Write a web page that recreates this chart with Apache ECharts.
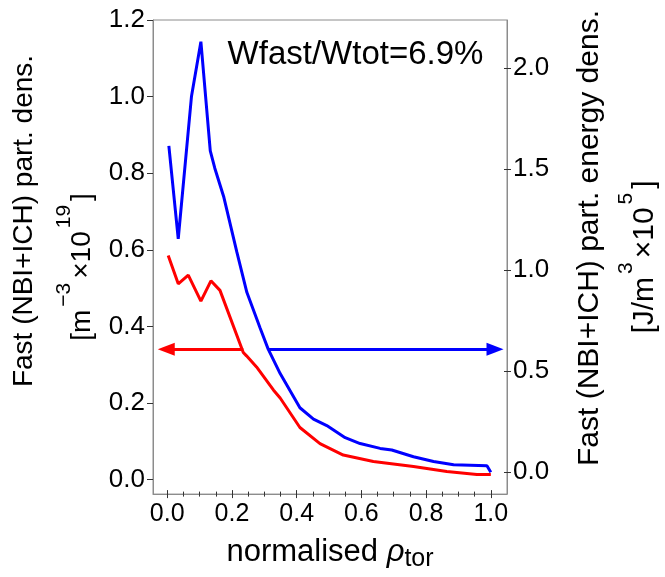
<!DOCTYPE html>
<html><head><meta charset="utf-8">
<script src="https://cdn.jsdelivr.net/npm/echarts@6/dist/echarts.min.js"></script>
<style>html,body{margin:0;padding:0;background:#fff}#c{width:665px;height:577px}</style>
</head><body><div id="c"></div><script>
// Fast particle density (left axis, 1e19 m^-3)
const rhoDens = [0.003, 0.034, 0.065, 0.104, 0.135, 0.163, 0.235, 0.245, 0.276, 0.328, 0.349, 0.41, 0.472, 0.544, 0.637, 0.761, 0.864, 0.957, 1.0];
const partDens = [0.585, 0.511, 0.534, 0.466, 0.519, 0.494, 0.332, 0.323, 0.294, 0.234, 0.213, 0.136, 0.094, 0.064, 0.047, 0.034, 0.021, 0.013, 0.013];
// Fast particle energy density (right axis, 1e5 J/m^3)
const rhoEnergy = [0.005, 0.034, 0.075, 0.104, 0.133, 0.147, 0.175, 0.215, 0.246, 0.287, 0.312, 0.349, 0.41, 0.452, 0.493, 0.55, 0.596, 0.658, 0.694, 0.761, 0.823, 0.885, 0.988, 1.0];
const energyDens = [1.614, 1.154, 1.86, 2.13, 1.59, 1.504, 1.36, 1.09, 0.89, 0.714, 0.609, 0.488, 0.319, 0.263, 0.231, 0.171, 0.142, 0.118, 0.110, 0.077, 0.053, 0.037, 0.032, 0.0];
// Arrows indicating which axis each curve belongs to
const redArrowX = [0.235, -0.003];
const redArrowY = 0.34;
const blueArrowX = [0.313, 1.013];
const blueArrowY = 0.609;
// Ticks
const xMajorTicks = [0, 0.2, 0.4, 0.6, 0.8, 1.0];
const xMinorTicks = [0, 0.05, 0.1, 0.15, 0.2, 0.25, 0.3, 0.35, 0.4, 0.45, 0.5, 0.55, 0.6, 0.65, 0.7, 0.75, 0.8, 0.85, 0.9, 0.95, 1.0];
const leftTicks = [0, 0.2, 0.4, 0.6, 0.8, 1.0, 1.2];
const rightTicks = [0, 0.5, 1.0, 1.5, 2.0];
const annotation = 'Wfast/Wtot=6.9%';
const leftTitle1 = 'Fast (NBI+ICH) part. dens.';
const leftTitle2 = '[m{sup|−3}×10{sup|19}]';
const rightTitle1 = 'Fast (NBI+ICH) part. energy dens.';
const rightTitle2 = '[J/m{sup|3}×10{sup|5}]';
const xTitle = 'normalised {rho|ρ}{sub|tor}';

const FONT = 'Liberation Sans';
const RED = '#ff0000', BLUE = '#0000ff', AXIS = '#8c8c8c', TICK = '#333';
const X_MIN = -0.044, X_MAX = 1.05;
const L_MIN = -0.038, L_MAX = 1.2;
const R_MIN = -0.108, R_MAX = 2.237;

function pairs(xs, ys) { return xs.map((x, i) => [x, ys[i]]); }

function xAx(ticks, len, inside, main) {
  return {
    type: 'value', min: X_MIN, max: X_MAX, position: 'bottom',
    axisLine: { show: !!main, onZero: false, lineStyle: { color: AXIS, width: 1 } },
    axisTick: { show: true, inside: inside, length: len, customValues: ticks, lineStyle: { color: TICK, width: 1 } },
    axisLabel: main ? { show: true, customValues: xMajorTicks, formatter: v => v.toFixed(1), fontSize: 25, color: '#000', margin: 8, fontFamily: FONT } : { show: false },
    splitLine: { show: false },
    name: main ? xTitle : '', nameLocation: 'middle', nameGap: 34,
    nameTextStyle: { fontSize: 31, color: '#000', fontFamily: FONT, lineHeight: 40,
      rich: { rho: { fontSize: 31, fontStyle: 'italic', fontFamily: FONT, lineHeight: 40 },
              sub: { fontSize: 25, fontFamily: FONT, lineHeight: 26, verticalAlign: 'bottom' } } }
  };
}

const chart = echarts.init(document.getElementById('c'), null, { renderer: 'canvas' });
const supRich = { sup: { fontSize: 21, lineHeight: 20, verticalAlign: 'top', fontFamily: FONT, fill: '#000', padding: [0, 4, 0, 3] } };
chart.setOption({
  animation: false,
  textStyle: { fontFamily: FONT },
  grid: { left: 153, right: 158, top: 20, bottom: 72, show: true, borderColor: AXIS, borderWidth: 1, backgroundColor: 'transparent' },
  xAxis: [
    xAx(xMajorTicks, 4, false, true),
    xAx(xMajorTicks, 4, true, false),
    xAx(xMinorTicks, 2.5, false, false),
    xAx(xMinorTicks, 2.5, true, false)
  ],
  yAxis: [
    { type: 'value', position: 'left', min: L_MIN, max: L_MAX,
      axisLine: { show: true, onZero: false, lineStyle: { color: AXIS } },
      axisTick: { show: true, length: 6, customValues: leftTicks, lineStyle: { color: TICK } },
      axisLabel: { customValues: leftTicks, formatter: v => v.toFixed(1), fontSize: 26, color: '#000', margin: 8, fontFamily: FONT },
      splitLine: { show: false } },
    { type: 'value', position: 'right', min: R_MIN, max: R_MAX,
      axisLine: { show: true, onZero: false, lineStyle: { color: AXIS } },
      axisTick: { show: true, length: 4, customValues: rightTicks, lineStyle: { color: TICK } },
      axisLabel: { customValues: rightTicks, formatter: v => v.toFixed(1), fontSize: 26, color: '#000', margin: 6, fontFamily: FONT },
      splitLine: { show: false } },
    { type: 'value', position: 'right', min: R_MIN, max: R_MAX,
      axisLine: { show: false, onZero: false },
      axisTick: { show: true, inside: true, length: 3, customValues: rightTicks, lineStyle: { color: TICK } },
      axisLabel: { show: false }, splitLine: { show: false } }
  ],
  series: [
    { type: 'line', xAxisIndex: 0, yAxisIndex: 0, data: pairs(rhoDens, partDens), showSymbol: false, symbol: 'none',
      lineStyle: { color: RED, width: 3 }, itemStyle: { color: RED }, silent: true, z: 3,
      markLine: { silent: true, animation: false, symbol: ['none', 'triangle'], symbolSize: 16,
        label: { show: false }, lineStyle: { color: RED, width: 3, type: 'solid' },
        data: [[{ coord: [redArrowX[0], redArrowY] }, { coord: [redArrowX[1], redArrowY], symbolSize: [13, 17] }]] } },
    { type: 'line', xAxisIndex: 0, yAxisIndex: 1, data: pairs(rhoEnergy, energyDens), showSymbol: false, symbol: 'none',
      lineStyle: { color: BLUE, width: 3 }, itemStyle: { color: BLUE }, silent: true, z: 4,
      markLine: { silent: true, animation: false, symbol: ['none', 'triangle'], symbolSize: 16,
        label: { show: false }, lineStyle: { color: BLUE, width: 3, type: 'solid' },
        data: [[{ coord: [blueArrowX[0], blueArrowY] }, { coord: [blueArrowX[1], blueArrowY], symbolSize: [13, 17] }]] } }
  ],
  graphic: [
    { type: 'text', x: 355.5, y: 55, silent: true,
      style: { text: annotation, font: '33px "' + FONT + '"', fill: '#000', align: 'center', verticalAlign: 'middle' } },
    { type: 'text', x: 24, y: 221, rotation: Math.PI / 2, silent: true,
      style: { text: leftTitle1, font: '28px "' + FONT + '"', fill: '#000', align: 'center', verticalAlign: 'middle' } },
    { type: 'text', x: 82, y: 267, rotation: Math.PI / 2, silent: true,
      style: { text: leftTitle2, font: '28px "' + FONT + '"', lineHeight: 56, fill: '#000', align: 'center', verticalAlign: 'middle', rich: supRich } },
    { type: 'text', x: 590, y: 238, rotation: Math.PI / 2, silent: true,
      style: { text: rightTitle1, font: '30px "' + FONT + '"', fill: '#000', align: 'center', verticalAlign: 'middle' } },
    { type: 'text', x: 645, y: 257, rotation: Math.PI / 2, silent: true,
      style: { text: rightTitle2, font: '30px "' + FONT + '"', lineHeight: 58, fill: '#000', align: 'center', verticalAlign: 'middle', rich: supRich } }
  ]
});
</script></body></html>
